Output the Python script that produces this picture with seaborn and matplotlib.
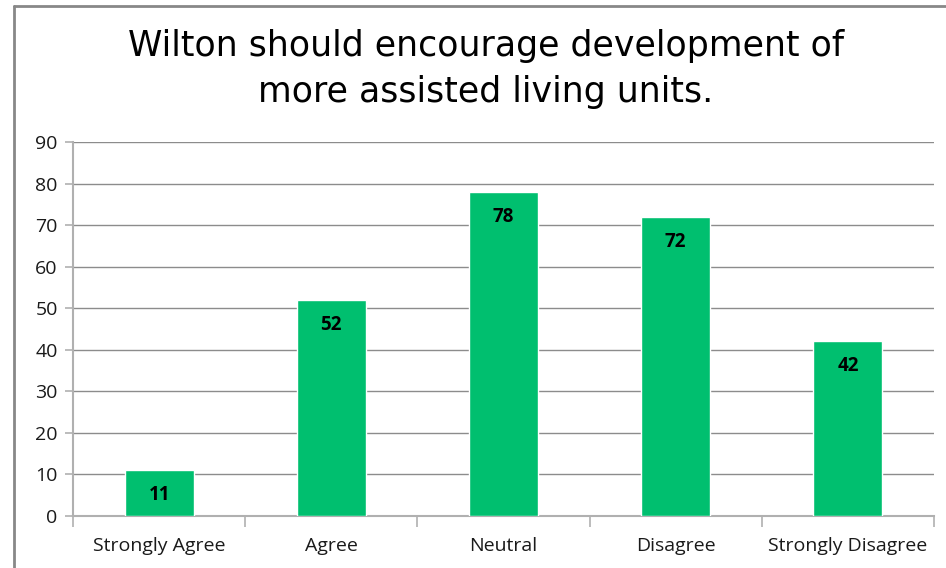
import matplotlib
matplotlib.use("Agg")
import matplotlib.pyplot as plt
import seaborn as sns
import pandas as pd
from matplotlib.lines import Line2D

categories = ["Strongly Agree", "Agree", "Neutral", "Disagree", "Strongly Disagree"]
values = [11, 52, 78, 72, 42]
yticks = [0, 10, 20, 30, 40, 50, 60, 70, 80, 90]
title = "Wilton should encourage development of\nmore assisted living units."

sns.set_theme(style="white")
plt.rcParams['font.family'] = ['Open Sans', 'DejaVu Sans']

df = pd.DataFrame({"cat": categories, "val": values})

W, H = 946, 568
fig = plt.figure(figsize=(W / 100, H / 100), dpi=100)
ax = fig.add_axes([73 / W, (H - 516) / H, (934 - 73) / W, (516 - 142) / H])

sns.barplot(data=df, x="cat", y="val", color="#00BF6F", width=0.4, saturation=1,
            ax=ax, zorder=3)

ax.set_ylim(0, 90)
ax.set_xlim(-0.5, len(categories) - 0.5)
ax.set_yticks(yticks)
ax.set_xlabel("")
ax.set_ylabel("")

grid_c = "#8c8c8c"
spine_c = "#b0b0b0"
ax.yaxis.grid(True, color=grid_c, linewidth=1.0, zorder=0)
ax.xaxis.grid(False)
for s in ["top", "right"]:
    ax.spines[s].set_visible(False)
for s in ["left", "bottom"]:
    ax.spines[s].set_visible(True)
    ax.spines[s].set_color(spine_c)
    ax.spines[s].set_linewidth(1.5)

ax.tick_params(axis="y", which="major", direction="out", length=6, width=1.2,
               color=spine_c, labelsize=14, labelcolor="#1a1a1a", pad=5, left=True)
ax.set_xticks(range(len(categories)))
ax.set_xticklabels(categories)
ax.set_xticks([i - 0.5 for i in range(len(categories) + 1)], minor=True)
ax.tick_params(axis="x", which="major", length=0, labelsize=14, labelcolor="#1a1a1a", pad=15)
ax.tick_params(axis="x", which="minor", direction="out", length=8, width=1.2,
               color=spine_c, bottom=True)

for i, v in enumerate(values):
    ax.annotate(str(v), xy=(i, v), xytext=(0, -18), textcoords="offset points",
                ha="center", va="center", fontsize=13.5, fontweight="bold",
                color="#000000", zorder=4)

fig.text(486 / W, 1 - 69 / H, title, ha="center", va="center",
         fontsize=25, family=["DejaVu Sans"], color="#000000",
         linespacing=1.45)

# outer frame lines (top and left)
fig.add_artist(Line2D([14 / W, 1], [1 - 6 / H, 1 - 6 / H], color="#888888",
                      linewidth=2, transform=fig.transFigure))
fig.add_artist(Line2D([14 / W, 14 / W], [0, 1 - 6 / H], color="#888888",
                      linewidth=2, transform=fig.transFigure))

fig.savefig("out.png", dpi=100, facecolor="white")
